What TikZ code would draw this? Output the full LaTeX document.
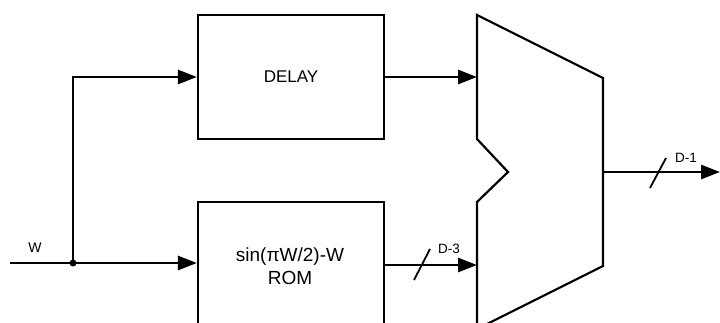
\documentclass[tikz,border=0pt]{standalone}
\usepackage{fontspec}
\setmainfont{Liberation Sans}
\usetikzlibrary{arrows.meta}
\begin{document}
\begin{tikzpicture}[x=1pt,y=-1pt,
  wire/.style={line width=2.8pt,-{Triangle[length=19pt,width=14pt]}},
  plainwire/.style={line width=2.8pt},
  blk/.style={draw, line width=2.2pt, minimum width=186pt, inner sep=0pt},
  slash/.style={line width=1.8pt},
  lbl/.style={font=\fontsize{13.5}{15}\selectfont, inner sep=0pt},
  big/.style={font=\fontsize{17}{20}\selectfont, align=center, inner sep=0pt},
  bigger/.style={font=\fontsize{19}{23}\selectfont, align=center, inner sep=0pt},
  dot/.style={circle, fill, inner sep=0pt, minimum size=7pt}]
\useasboundingbox (0,0) rectangle (720,322);
\clip (0,0) rectangle (720,322);
% blocks
\node[blk, minimum height=124pt] (delay) at (291,77) {};
\node[big] (delaytxt) at (291,77) {DELAY};
\node[blk, minimum height=136pt] (rom) at (291,270) {};
\node[bigger] (romtxt) at (290,266) {sin(πW/2)-W\\ROM};
% mux
\coordinate (m1) at (477,15);
\coordinate (m2) at (603,78);
\coordinate (m3) at (603,266);
\coordinate (m4) at (477,329);
\coordinate (m5) at (477,202);
\coordinate (m6) at (508,172);
\coordinate (m7) at (477,139);
\draw[line width=2.2pt, line join=miter] (m1) -- (m2) -- (m3) -- (m4) -- (m5) -- (m6) -- (m7) -- cycle;
\coordinate (muxa) at (477,77);
\coordinate (muxb) at (477,265);
\coordinate (muxo) at (603,172);
\coordinate (outend) at (720,172);
% input
\coordinate (w0) at (10,263);
\node[dot] (j) at (73,263) {};
\coordinate (jtop) at (73,77);
\draw[plainwire] (w0) -- (j.center);
\draw[wire] (j.center) -- (rom.west |- j);
\draw[wire] (j.center) -- (jtop) -- (delay.west |- jtop);
\node[lbl, font=\fontsize{14}{16}\selectfont] (wlbl) at (35,248) {W};
% outputs
\draw[wire] (delay.east |- muxa) -- (muxa);
\draw[wire] (rom.east |- muxb) -- (muxb);
\draw[wire] (muxo) -- (outend);
% bus slashes
\coordinate (s1a) at (414,280);
\coordinate (s1b) at (430,249);
\draw[slash] (s1a) -- (s1b);
\node[lbl] (d3) at (449,249) {D-3};
\coordinate (s2a) at (650,188);
\coordinate (s2b) at (666,158);
\draw[slash] (s2a) -- (s2b);
\node[lbl] (d1) at (686,158) {D-1};
\end{tikzpicture}
\end{document}
